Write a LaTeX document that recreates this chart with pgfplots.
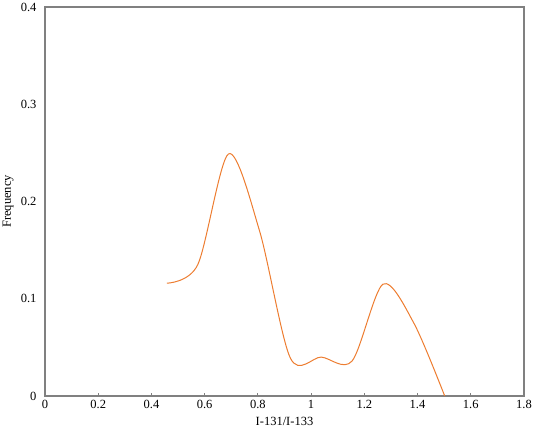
\documentclass[border=0pt]{standalone}
\usepackage{fontspec}
\setmainfont{Liberation Serif}
\usepackage{pgfplots}
\pgfplotsset{compat=1.18}
\definecolor{excelorange}{RGB}{237,125,49}
\definecolor{axisgray}{RGB}{128,128,128}

\begin{document}
\begin{tikzpicture}
\begin{axis}[
    scale only axis,
    width=479pt,
    height=389pt,
    xmin=0, xmax=1.8,
    ymin=0, ymax=0.4,
    xtick={0,0.2,...,1.8},
    ytick={0,0.1,0.2,0.3,0.4},
    xticklabels={0,0.2,0.4,0.6,0.8,1,1.2,1.4,1.6,1.8},
    yticklabels={0,0.1,0.2,0.3,0.4},
    axis line style={axisgray, line width=1.2pt},
    tick align=inside,
    major tick length=3pt,
    x tick style={axisgray, line width=1pt},
    y tick style={draw=none},
    xtick pos=bottom,
    ytick pos=left,
    tick label style={font=\fontsize{12.5}{14}\selectfont, text=black},
    xticklabel style={yshift=-1pt},
    yticklabel style={xshift=-5pt},
    /pgf/number format/assume math mode=true,
    xlabel={I-131/I-133},
    ylabel={Frequency},
    label style={font=\fontsize{12.5}{14}\selectfont},
    xlabel style={at={(axis description cs:0.5,0)}, anchor=north, yshift=-18pt},
    ylabel style={at={(axis description cs:0,0.5)}, anchor=south, xshift=0pt, yshift=28pt},
    clip=true,
]
\addplot[excelorange, line width=1pt, smooth, tension=0.5] coordinates {
    (0.458, 0.116)
    (0.574, 0.135)
    (0.690, 0.249)
    (0.806, 0.170)
    (0.922, 0.039)
    (1.038, 0.040)
    (1.154, 0.036)
    (1.270, 0.115)
    (1.386, 0.075)
    (1.502, 0.000)
};
\end{axis}
\pgfresetboundingbox
\path (current axis.south west) ++(-45pt,-32pt) coordinate (bl);
\path (current axis.north east) ++(9pt,7pt) coordinate (tr);
\path (bl) rectangle (tr);
\end{tikzpicture}
\end{document}
